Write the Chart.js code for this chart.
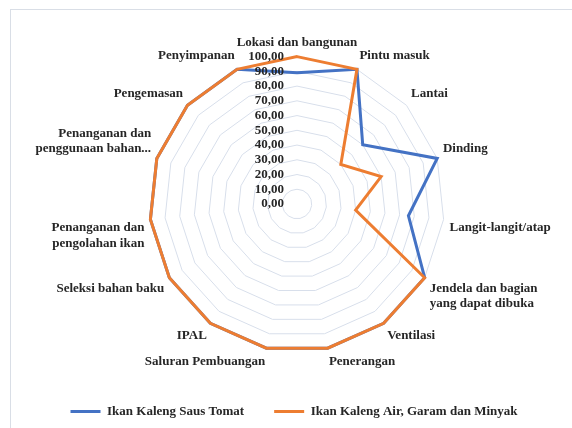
<!DOCTYPE html>
<html>
<head>
<meta charset="utf-8">
<script src="https://cdn.jsdelivr.net/npm/chart.js@4/dist/chart.umd.min.js"></script>
<style>
  html, body { margin: 0; padding: 0; background: #fff; overflow: hidden; }
  #box {
    position: absolute; left: 10px; top: 9px; width: 590px; height: 440px;
    border: 1px solid #d9dee6; box-sizing: border-box; background: #fff;
  }
  #wrap { position: absolute; left: 0; top: 0; width: 574px; height: 418px; }
</style>
</head>
<body>
<div id="box"><div id="wrap"><canvas id="radarChart"></canvas></div></div>
<script>
// categories
const categories = [
  'Lokasi dan bangunan',
  'Pintu masuk',
  'Lantai',
  'Dinding',
  'Langit-langit/atap',
  ['Jendela dan bagian', 'yang dapat dibuka'],
  'Ventilasi',
  'Penerangan',
  'Saluran Pembuangan',
  'IPAL',
  'Seleksi bahan baku',
  ['Penanganan dan', 'pengolahan ikan'],
  ['Penanganan dan', 'penggunaan bahan...'],
  'Pengemasan',
  'Penyimpanan'
];

// series values
const sausTomat = [89, 100, 60, 100, 76, 100, 100, 100, 100, 100, 100, 100, 100, 100, 100];
const airGaramMinyak = [100, 100, 40, 60, 40, 100, 100, 100, 100, 100, 100, 100, 100, 100, 100];

// tick labels
const tickValues = [0, 10, 20, 30, 40, 50, 60, 70, 80, 90, 100];

const fontFamily = "'Liberation Serif', 'Times New Roman', serif";
const textColor = '#262626';

// draws the 0,00 ... 100,00 labels left of the vertical axis
const tickLabelPlugin = {
  id: 'tickLabels',
  afterDatasetsDraw(chart) {
    const scale = chart.scales.r;
    const ctx = chart.ctx;
    ctx.save();
    ctx.font = 'bold 13px ' + fontFamily;
    ctx.fillStyle = textColor;
    ctx.textAlign = 'right';
    ctx.textBaseline = 'middle';
    tickValues.forEach(v => {
      const d = scale.getDistanceFromCenterForValue(v);
      ctx.fillText(v.toFixed(2).replace('.', ','), scale.xCenter - 13, scale.yCenter - d);
    });
    ctx.restore();
  }
};

new Chart(document.getElementById('radarChart'), {
  type: 'radar',
  data: {
    labels: categories,
    datasets: [
      {
        label: 'Ikan Kaleng Saus Tomat',
        data: sausTomat,
        borderColor: '#4472c4',
        backgroundColor: '#4472c4',
        borderWidth: 3,
        pointRadius: 0,
        fill: false,
        order: 2
      },
      {
        label: 'Ikan Kaleng Air, Garam dan Minyak',
        data: airGaramMinyak,
        borderColor: '#ed7d31',
        backgroundColor: '#ed7d31',
        borderWidth: 3,
        pointRadius: 0,
        fill: false,
        order: 1
      }
    ]
  },
  options: {
    responsive: true,
    maintainAspectRatio: false,
    animation: false,
    layout: { padding: { left: 14, right: 22, top: 23, bottom: 0 } },
    elements: { line: { tension: 0 } },
    plugins: {
      tooltip: { enabled: false },
      legend: {
        position: 'bottom',
        title: { display: true, text: '', font: { size: 1 }, padding: { top: 1, bottom: 0 } },
        labels: {
          boxWidth: 30,
          boxHeight: 3,
          padding: 30,
          color: textColor,
          font: { family: fontFamily, size: 13, weight: 'bold' },
          sort: (a, b) => a.datasetIndex - b.datasetIndex,
          generateLabels: chart => Chart.defaults.plugins.legend.labels.generateLabels(chart)
            .map(item => Object.assign(item, { lineWidth: 0 }))
        }
      }
    },
    scales: {
      r: {
        min: 0,
        max: 100,
        ticks: { display: false, stepSize: 10 },
        grid: { color: '#d8dfeb', lineWidth: 1 },
        angleLines: { display: false },
        pointLabels: {
          color: textColor,
          padding: 6,
          font: { family: fontFamily, size: 13, weight: 'bold' }
        }
      }
    }
  },
  plugins: [tickLabelPlugin]
});
</script>
</body>
</html>
